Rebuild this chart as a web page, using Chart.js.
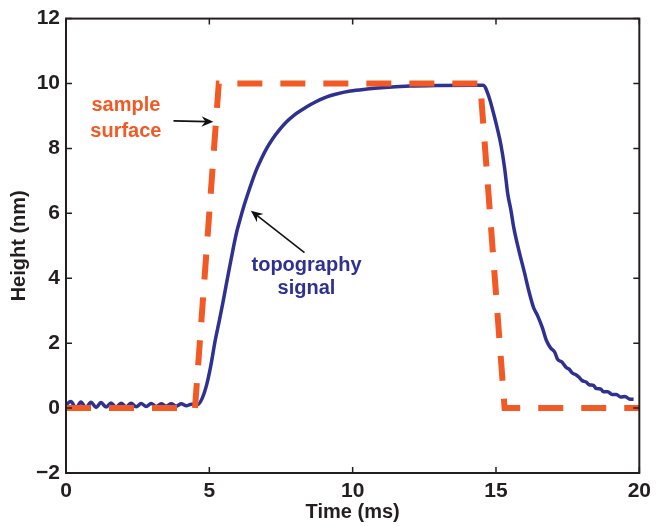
<!DOCTYPE html>
<html>
<head>
<meta charset="utf-8">
<script src="https://cdn.jsdelivr.net/npm/chart.js@4"></script>
<style>
  html, body { margin: 0; padding: 0; background: #fff; }
  #wrap { width: 657px; height: 526px; }
</style>
</head>
<body>
<div id="wrap"><canvas id="grafico" width="657" height="526"></canvas></div>
<script>
// Superficie da amostra (tracejado vermelho)
const superficieX = [0, 4.5, 5.33, 14.45, 15.3, 20];
const superficieY = [0, 0, 10, 10, 0, 0];

// Sinal de topografia (linha azul)
const sinalX = [0, 0.17, 0.35, 0.52, 0.7, 0.87, 1.05, 1.22, 1.4, 1.57, 1.75, 1.92, 2.1, 2.27, 2.45, 2.62, 2.8, 2.97, 3.15, 3.32, 3.5, 3.67, 3.85, 4.02, 4.2, 4.37, 4.6,
  4.75, 4.91, 5.05, 5.2, 5.35, 5.48, 5.6, 5.72, 5.84, 5.95, 6.07, 6.18, 6.4, 6.6, 6.8, 7.0, 7.21, 7.45, 7.67, 7.95, 8.25, 8.55, 8.83, 9.1, 9.4, 9.92, 10.5, 11, 12, 13, 14.4,
  14.55, 14.75, 14.9, 15.05, 15.17, 15.3, 15.41, 15.52, 15.62, 15.8, 16.0, 16.14, 16.31, 16.45, 16.62, 16.75, 16.9, 17.05, 17.15, 17.3, 17.45, 17.55, 17.66, 17.8, 17.9,
  18.0, 18.15, 18.25, 18.4, 18.5, 18.65, 18.75, 18.9, 19.05, 19.2, 19.35, 19.5, 19.65, 19.8];
const sinalY = [0.1, 0.2, 0.0, 0.19, 0.01, 0.18, 0.02, 0.17, 0.03, 0.16, 0.03, 0.15, 0.04, 0.15, 0.04, 0.14, 0.05, 0.14, 0.05, 0.13, 0.06, 0.13, 0.06, 0.13, 0.07, 0.12, 0.11,
  0.3, 0.73, 1.3, 2.06, 2.7, 3.28, 3.85, 4.4, 4.95, 5.41, 5.8, 6.15, 6.75, 7.25, 7.65, 8.0, 8.3, 8.58, 8.8, 9.02, 9.2, 9.36, 9.49, 9.59, 9.67, 9.77, 9.83, 9.87, 9.92, 9.94, 9.95,
  9.95, 9.6, 9.13, 8.6, 8.12, 7.4, 6.6, 6.1, 5.56, 4.85, 4.15, 3.63, 3.1, 2.85, 2.47, 2.1, 1.86, 1.72, 1.5, 1.42, 1.25, 1.2, 1.08, 1.02, 0.95,
  0.85, 0.8, 0.72, 0.7, 0.6, 0.59, 0.5, 0.5, 0.42, 0.42, 0.34, 0.36, 0.28, 0.27];

// Eixos
const limitesX = [0, 20];
const limitesY = [-2, 12];
const passoX = 5;
const passoY = 2;

const corVermelha = '#F15A24';
const corAzul = '#2E3192';
const corEixo = '#231F20';
const fonte = 'Liberation Sans, Arial, sans-serif';

// Anotacoes em unidades dos dados
const notas = [
  { linhas: ['sample', 'surface'], x: 2.09, y: 9.31, dy: -0.79, cor: corVermelha },
  { linhas: ['topography', 'signal'], x: 8.39, y: 4.4, dy: -0.71, cor: corAzul }
];
const setas = [
  { de: [3.75, 8.85], para: [5.14, 8.82] },
  { de: [8.32, 4.79], para: [6.45, 6.08] }
];

const paraPontos = (xs, ys) => xs.map((x, i) => ({ x: x, y: ys[i] }));

const molduraPlugin = {
  id: 'moldura',
  afterDraw(chart) {
    const ctx = chart.ctx;
    const a = chart.chartArea;
    const sx = chart.scales.x, sy = chart.scales.y;
    ctx.save();
    ctx.strokeStyle = corEixo;
    ctx.lineWidth = 2;
    ctx.strokeRect(a.left, a.top, a.right - a.left, a.bottom - a.top);

    // ticks para dentro nos quatro lados
    const tam = 6;
    ctx.lineWidth = 1.5;
    ctx.beginPath();
    for (let v = limitesX[0]; v <= limitesX[1]; v += passoX) {
      const px = sx.getPixelForValue(v);
      ctx.moveTo(px, a.bottom); ctx.lineTo(px, a.bottom - tam);
      ctx.moveTo(px, a.top); ctx.lineTo(px, a.top + tam);
    }
    for (let v = limitesY[0]; v <= limitesY[1]; v += passoY) {
      const py = sy.getPixelForValue(v);
      ctx.moveTo(a.left, py); ctx.lineTo(a.left + tam, py);
      ctx.moveTo(a.right, py); ctx.lineTo(a.right - tam, py);
    }
    ctx.stroke();

    // textos
    ctx.font = 'bold 20px ' + fonte;
    ctx.textAlign = 'center';
    ctx.textBaseline = 'middle';
    notas.forEach(n => {
      ctx.fillStyle = n.cor;
      n.linhas.forEach((t, i) => {
        ctx.fillText(t, sx.getPixelForValue(n.x), sy.getPixelForValue(n.y + i * n.dy));
      });
    });

    // setas
    ctx.strokeStyle = '#111';
    ctx.fillStyle = '#111';
    setas.forEach(s => {
      const x1 = sx.getPixelForValue(s.de[0]), y1 = sy.getPixelForValue(s.de[1]);
      const x2 = sx.getPixelForValue(s.para[0]), y2 = sy.getPixelForValue(s.para[1]);
      const ang = Math.atan2(y2 - y1, x2 - x1);
      ctx.lineWidth = 1.6;
      ctx.beginPath();
      ctx.moveTo(x1, y1);
      ctx.lineTo(x2 - 6 * Math.cos(ang), y2 - 6 * Math.sin(ang));
      ctx.stroke();
      const L = 13, w = 0.42;
      ctx.beginPath();
      ctx.moveTo(x2, y2);
      ctx.lineTo(x2 - L * Math.cos(ang - w), y2 - L * Math.sin(ang - w));
      ctx.lineTo(x2 - 8 * Math.cos(ang), y2 - 8 * Math.sin(ang));
      ctx.lineTo(x2 - L * Math.cos(ang + w), y2 - L * Math.sin(ang + w));
      ctx.closePath();
      ctx.fill();
    });
    ctx.restore();
  }
};

const ctx = document.getElementById('grafico').getContext('2d');
new Chart(ctx, {
  type: 'scatter',
  data: {
    datasets: [
      {
        label: 'sample surface',
        data: paraPontos(superficieX, superficieY),
        showLine: true,
        borderColor: corVermelha,
        borderWidth: 6,
        borderDash: [25, 18],
        pointRadius: 0,
        tension: 0
      },
      {
        label: 'topography signal',
        data: paraPontos(sinalX, sinalY),
        showLine: true,
        borderColor: corAzul,
        borderWidth: 3.5,
        pointRadius: 0,
        cubicInterpolationMode: 'monotone'
      }
    ]
  },
  options: {
    responsive: false,
    animation: false,
    layout: { padding: { top: 16, right: 13, left: 0, bottom: 0 } },
    plugins: { legend: { display: false }, tooltip: { enabled: false } },
    scales: {
      x: {
        type: 'linear',
        min: limitesX[0], max: limitesX[1],
        grid: { display: false, drawTicks: false },
        border: { display: false },
        ticks: { stepSize: passoX, padding: 6, color: corEixo, font: { family: fonte, size: 21, weight: 'bold' } },
        title: { display: true, text: 'Time (ms)', color: corEixo, padding: { top: 0, bottom: 2 }, font: { family: fonte, size: 20, weight: 'bold' } },
        afterFit: s => { s.height = 53; }
      },
      y: {
        type: 'linear',
        min: limitesY[0], max: limitesY[1],
        grid: { display: false, drawTicks: false },
        border: { display: false },
        ticks: {
          stepSize: passoY, padding: 6, color: corEixo,
          font: { family: fonte, size: 21, weight: 'bold' },
          callback: v => (v < 0 ? '\u2212' + Math.abs(v) : v)
        },
        title: { display: true, text: 'Height (nm)', color: corEixo, padding: { top: 7, bottom: 0 }, font: { family: fonte, size: 20, weight: 'bold' } },
        afterFit: s => { s.width = 66; }
      }
    }
  },
  plugins: [molduraPlugin]
});
</script>
</body>
</html>
